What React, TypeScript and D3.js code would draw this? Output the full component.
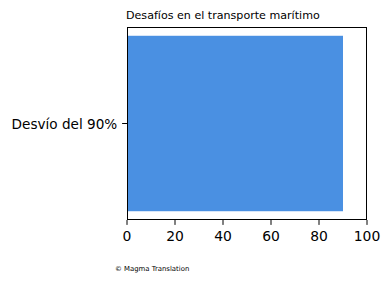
import React from "react";
import * as d3 from "d3";

const categories: string[] = ["Desvío del 90%"];
const values: number[] = [90];
const xTicks: number[] = [0, 20, 40, 60, 80, 100];
const title = "Desafíos en el transporte marítimo";
const credit = "© Magma Translation";

export default function App() {
  const width = 390;
  const height = 282;
  const left = 127;
  const right = 367;
  const top = 27;
  const bottom = 220;
  const x = d3.scaleLinear().domain([0, 100]).range([left, right]);
  const y = d3
    .scaleBand<string>()
    .domain(categories)
    .range([top, bottom])
    .paddingInner(0)
    .paddingOuter(0.05);
  const font = "DejaVu Sans, sans-serif";
  return (
    <svg
      width={width}
      height={height}
      style={{ position: "absolute", left: 0, top: 0, background: "#fff" }}
      fontFamily={font}
    >
      {categories.map((c, i) => (
        <rect
          key={c}
          x={x(0)}
          y={y(c)!}
          width={x(values[i]) - x(0)}
          height={y.bandwidth()}
          fill="#4a90e2"
        />
      ))}
      <rect
        x={left + 0.5}
        y={top + 0.5}
        width={right - left - 1}
        height={bottom - top - 1}
        fill="none"
        stroke="#000"
        strokeWidth={1}
      />
      {xTicks.map((t) => (
        <g key={t}>
          <line x1={x(t)} x2={x(t)} y1={bottom} y2={bottom + 4.9} stroke="#000" />
          <text
            x={x(t)}
            y={bottom + 20.7}
            textAnchor="middle"
            fontSize={13.9}
            fill="#000"
          >
            {t}
          </text>
        </g>
      ))}
      {categories.map((c) => (
        <g key={c}>
          <line
            x1={left - 4.9}
            x2={left}
            y1={y(c)! + y.bandwidth() / 2}
            y2={y(c)! + y.bandwidth() / 2}
            stroke="#000"
          />
          <text
            x={left - 9.7}
            y={y(c)! + y.bandwidth() / 2}
            textAnchor="end"
            dominantBaseline="central"
            fontSize={13.6}
            fill="#000"
          >
            {c}
          </text>
        </g>
      ))}
      <text x={126} y={18.5} fontSize={11.1} fill="#000">
        {title}
      </text>
      <text x={115} y={270.5} fontSize={6.9} fill="#000">
        {credit}
      </text>
    </svg>
  );
}
